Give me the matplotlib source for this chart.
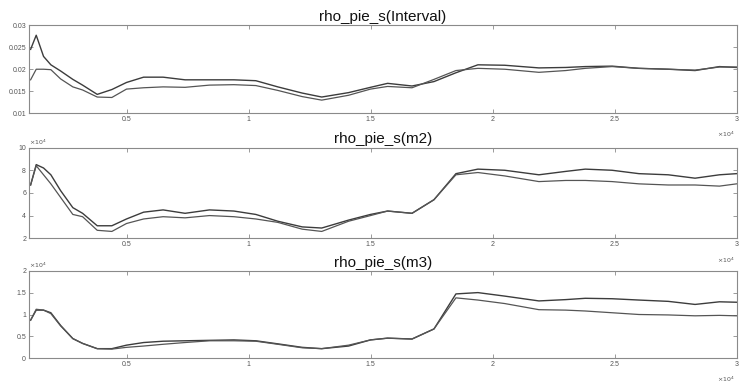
import matplotlib
matplotlib.use("Agg")
import matplotlib.pyplot as plt
from matplotlib.ticker import FuncFormatter, FixedLocator
import numpy as np

plt.rcParams['font.family'] = ['Liberation Sans', 'DejaVu Sans']

# x positions (samples), in units of 1e4
x_e4 = [0.107, 0.13, 0.16, 0.19, 0.23, 0.28, 0.32, 0.38, 0.44, 0.5, 0.57, 0.65,
        0.74, 0.84, 0.94, 1.03, 1.12, 1.22, 1.3, 1.41, 1.5, 1.57, 1.67, 1.76,
        1.85, 1.94, 2.05, 2.19, 2.3, 2.38, 2.49, 2.6, 2.72, 2.83, 2.93, 3.0]

interval_a = [0.0245, 0.0277, 0.0229, 0.0210, 0.0196, 0.0177, 0.0164, 0.0143, 0.0154,
              0.0170, 0.0182, 0.0182, 0.0176, 0.0176, 0.0176, 0.0174, 0.0160, 0.0146,
              0.0137, 0.0147, 0.0159, 0.0168, 0.0162, 0.0172, 0.0192, 0.0210, 0.0209,
              0.0203, 0.0204, 0.0206, 0.0207, 0.0202, 0.0200, 0.0197, 0.0206, 0.0204]
interval_b = [0.0176, 0.0200, 0.0200, 0.0199, 0.0178, 0.0160, 0.0153, 0.0137, 0.0136,
              0.0155, 0.0158, 0.0160, 0.0159, 0.0164, 0.0165, 0.0163, 0.0152, 0.0138,
              0.0130, 0.0141, 0.0155, 0.0161, 0.0158, 0.0177, 0.0197, 0.0202, 0.0200,
              0.0193, 0.0197, 0.0202, 0.0206, 0.0202, 0.0200, 0.0198, 0.0205, 0.0205]

# units of 1e4
m2_a = [6.7, 8.5, 8.2, 7.6, 6.2, 4.7, 4.2, 3.1, 3.1, 3.7, 4.3, 4.5, 4.2, 4.5, 4.4, 4.1,
        3.5, 3.0, 2.9, 3.6, 4.1, 4.4, 4.2, 5.4, 7.7, 8.1, 8.0, 7.6, 7.9, 8.1, 8.0, 7.7,
        7.6, 7.3, 7.6, 7.7]
m2_b = [6.7, 8.4, 7.6, 6.8, 5.6, 4.1, 3.9, 2.7, 2.6, 3.3, 3.7, 3.9, 3.8, 4.0, 3.9, 3.7,
        3.4, 2.8, 2.6, 3.5, 4.0, 4.4, 4.2, 5.4, 7.6, 7.8, 7.5, 7.0, 7.1, 7.1, 7.0, 6.8,
        6.7, 6.7, 6.6, 6.8]

m3_a = [0.87, 1.10, 1.10, 1.04, 0.75, 0.45, 0.34, 0.22, 0.22, 0.30, 0.36, 0.39, 0.40,
        0.41, 0.42, 0.40, 0.33, 0.25, 0.22, 0.28, 0.42, 0.46, 0.44, 0.67, 1.47, 1.50,
        1.42, 1.31, 1.34, 1.37, 1.36, 1.33, 1.30, 1.23, 1.29, 1.28]
m3_b = [0.87, 1.12, 1.10, 1.02, 0.74, 0.45, 0.34, 0.22, 0.21, 0.25, 0.28, 0.32, 0.36,
        0.40, 0.40, 0.39, 0.32, 0.24, 0.22, 0.30, 0.42, 0.46, 0.44, 0.67, 1.38, 1.33,
        1.25, 1.11, 1.10, 1.08, 1.04, 1.00, 0.99, 0.97, 0.98, 0.97]

titles = ["rho_pie_s(Interval)", "rho_pie_s(m2)", "rho_pie_s(m3)"]
x_ticks_e4 = [0.5, 1, 1.5, 2, 2.5, 3]

x = np.array(x_e4) * 1e4
series = [
    (np.array(interval_a), np.array(interval_b), (0.01, 0.03), [0.01, 0.015, 0.02, 0.025, 0.03], 1.0),
    (np.array(m2_a) * 1e4, np.array(m2_b) * 1e4, (2e4, 10e4), [2e4, 4e4, 6e4, 8e4, 10e4], 1e4),
    (np.array(m3_a) * 1e4, np.array(m3_b) * 1e4, (0, 2e4), [0, 0.5e4, 1e4, 1.5e4, 2e4], 1e4),
]

fig = plt.figure(figsize=(7.41, 3.83), dpi=100)
positions = [
    [0.039, 0.704, 0.955, 0.2305],
    [0.039, 0.378, 0.955, 0.2366],
    [0.039, 0.0645, 0.955, 0.2287],
]
edge = '#8a8a8a'
lab = '#555555'
for pos, (ya, yb, ylim, yticks, yscale), title in zip(positions, series, titles):
    ax = fig.add_axes(pos)
    ax.plot(x, ya, color='#3c3c3c', lw=1.0)
    ax.plot(x, yb, color='#555555', lw=0.9)
    ax.set_xlim(1000, 30000)
    ax.set_ylim(*ylim)
    ax.xaxis.set_major_locator(FixedLocator([v * 1e4 for v in x_ticks_e4]))
    ax.xaxis.set_major_formatter(FuncFormatter(lambda v, p: '%g' % (v / 1e4)))
    ax.yaxis.set_major_locator(FixedLocator(yticks))
    ax.yaxis.set_major_formatter(FuncFormatter(lambda v, p, s=yscale: '%g' % (v / s)))
    ax.tick_params(direction='in', length=3, width=0.6, labelsize=5, colors=edge,
                   labelcolor=lab, top=True, right=True, pad=2)
    for sp in ax.spines.values():
        sp.set_color(edge)
        sp.set_linewidth(0.8)
    ax.set_title(title, fontsize=11, pad=3, color='#111111')
    ax.text(0.998, -0.19, r'$\times 10^4$', transform=ax.transAxes, fontsize=4.5,
            color=lab, ha='right', va='top')
    if yscale != 1.0:
        ax.text(0.0, 1.01, r'$\times 10^4$', transform=ax.transAxes, fontsize=4.5,
                color=lab, ha='left', va='bottom')

fig.savefig('out.png', dpi=100)
